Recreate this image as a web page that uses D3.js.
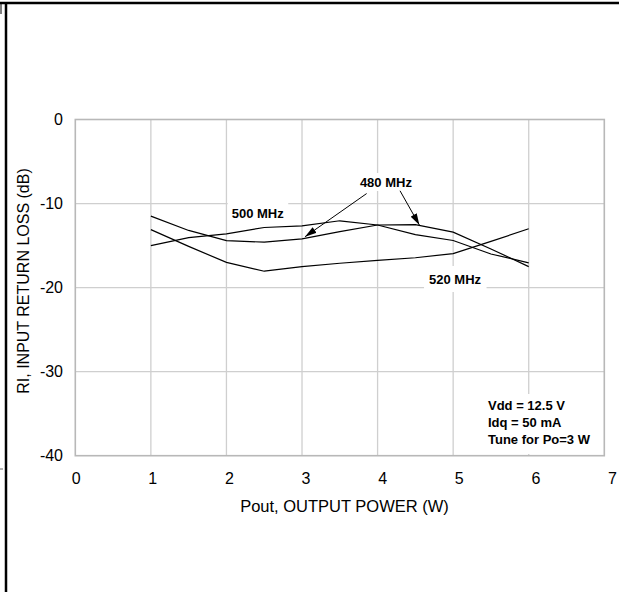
<!DOCTYPE html>
<html>
<head>
<meta charset="utf-8">
<script src="https://cdn.jsdelivr.net/npm/d3@7"></script>
<style>
  html, body { margin: 0; padding: 0; background: #fff; }
  svg { display: block; }
  text { font-family: "Liberation Sans", Arial, Helvetica, sans-serif; fill: #000; }
</style>
</head>
<body>
<svg id="chart" width="619" height="592"></svg>
<script>
// ---- data ----
const xValues   = [1, 1.5, 2, 2.5, 3, 3.5, 4, 4.5, 5, 5.5, 6];
const mhz480    = [-11.5, -13.2, -14.4, -14.6, -14.2, -13.35, -12.55, -12.5, -13.4, -15.4, -17.5];
const mhz500    = [-15.0, -14.05, -13.6, -12.85, -12.65, -12.05, -12.55, -13.7, -14.4, -16.0, -17.05];
const mhz520    = [-13.1, -15.1, -17.0, -18.05, -17.5, -17.1, -16.75, -16.45, -15.95, -14.5, -13.0];
const xTicks    = [0, 1, 2, 3, 4, 5, 6, 7];
const yTicks    = [0, -10, -20, -30, -40];
const seriesNames = ["480 MHz", "500 MHz", "520 MHz"];
const noteLines = ["Vdd = 12.5 V", "Idq = 50 mA", "Tune for Po=3 W"];
const xTitle = "Pout, OUTPUT POWER (W)";
const yTitle = "RI, INPUT RETURN LOSS (dB)";

// ---- layout ----
const svg = d3.select("#chart");
const L = 75.3, R = 604.3, T = 119.5, B = 455.7;
const x = d3.scaleLinear().domain([0, 7]).range([L, R]);
const y = d3.scaleLinear().domain([-40, 0]).range([B, T]);
const xLab = d3.scaleLinear().domain([0, 7]).range([75.7, 612]);

// page frame
svg.append("line").attr("x1", 0).attr("x2", 619).attr("y1", 3).attr("y2", 3)
  .attr("stroke", "#000").attr("stroke-width", 2.5);
svg.append("line").attr("x1", 6).attr("x2", 6).attr("y1", 2).attr("y2", 592)
  .attr("stroke", "#000").attr("stroke-width", 2.5);
svg.append("line").attr("x1", 1).attr("x2", 1).attr("y1", 4).attr("y2", 14)
  .attr("stroke", "#000").attr("stroke-width", 1);
svg.append("line").attr("x1", 0).attr("x2", 3).attr("y1", 469).attr("y2", 469)
  .attr("stroke", "#666").attr("stroke-width", 1);

// grid
const grid = svg.append("g");
grid.selectAll("line.v").data(xTicks.slice(1, -1)).join("line")
  .attr("x1", d => x(d)).attr("x2", d => x(d)).attr("y1", T).attr("y2", B)
  .attr("stroke", "#cfcfcf").attr("stroke-width", 1.3);
grid.selectAll("line.h").data(yTicks.slice(1, -1)).join("line")
  .attr("x1", L).attr("x2", R).attr("y1", d => y(d)).attr("y2", d => y(d))
  .attr("stroke", "#cfcfcf").attr("stroke-width", 1.3);
svg.append("rect").attr("x", L).attr("y", T).attr("width", R - L).attr("height", B - T)
  .attr("fill", "none").attr("stroke", "#b8b8b8").attr("stroke-width", 1.6);

// series lines
const line = d3.line().x((d, i) => x(xValues[i])).y(d => y(d));
[mhz480, mhz500, mhz520].forEach(s => {
  svg.append("path").datum(s).attr("d", line)
    .attr("fill", "none").attr("stroke", "#000").attr("stroke-width", 1.2);
});

// annotation label boxes + labels
const labels = [
  { text: seriesNames[0], x: 4.11, y: -8.0,  padX: 4, top: 173, bottom: 191 },
  { text: seriesNames[1], x: 2.414, y: -11.76, padX: 4, top: 201, bottom: 222 },
  { text: seriesNames[2], x: 5.025, y: -19.58, padX: 5, top: 266, bottom: 292 }
];
labels.forEach(l => {
  const t = svg.append("text").attr("x", x(l.x)).attr("y", y(l.y))
    .attr("text-anchor", "middle").attr("font-size", 13).attr("font-weight", "bold")
    .text(l.text);
  const bb = t.node().getBBox();
  svg.insert("rect", "text").attr("x", bb.x - l.padX).attr("width", bb.width + 2 * l.padX)
    .attr("y", l.top).attr("height", l.bottom - l.top).attr("fill", "#fff");
});

// arrows
const defs = svg.append("defs");
defs.append("marker").attr("id", "ah").attr("viewBox", "0 0 10 6")
  .attr("refX", 10).attr("refY", 3).attr("markerWidth", 12).attr("markerHeight", 7)
  .attr("markerUnits", "userSpaceOnUse").attr("orient", "auto")
  .append("path").attr("d", "M0,0 L10,3 L0,6 Z").attr("fill", "#000");
const arrows = [
  { x1: 3.855, y1: -8.81, x2: 3.04, y2: -13.95 },
  { x1: 4.297, y1: -8.48, x2: 4.553, y2: -12.56 }
];
arrows.forEach(a => {
  svg.append("line").attr("x1", x(a.x1)).attr("y1", y(a.y1))
    .attr("x2", x(a.x2)).attr("y2", y(a.y2))
    .attr("stroke", "#000").attr("stroke-width", 1).attr("marker-end", "url(#ah)");
});

// conditions note
const note = svg.append("g");
note.append("rect").attr("x", 482).attr("y", 394).attr("width", 118).attr("height", 60).attr("fill", "#fff");
note.selectAll("text").data(noteLines).join("text")
  .attr("x", 488).attr("y", (d, i) => 410 + i * 17)
  .attr("font-size", 13).attr("font-weight", "bold").text(d => d);

// axes (labels only)
const fmt = d => String(d);
const yAxis = svg.append("g").attr("transform", `translate(${L},0)`)
  .call(d3.axisLeft(y).tickValues(yTicks).tickSize(0).tickPadding(12).tickFormat(fmt));
yAxis.select(".domain").remove();
yAxis.selectAll("text").attr("font-size", 16).attr("x", 63 - L).attr("font-family", null);

const xAxis = svg.append("g").attr("transform", `translate(0,${B})`)
  .call(d3.axisBottom(xLab).tickValues(xTicks).tickSize(0).tickFormat(fmt));
xAxis.select(".domain").remove();
xAxis.selectAll("text").attr("font-size", 16).attr("y", 28).attr("dy", 0).attr("font-family", null);

// titles
svg.append("text").attr("x", 344.5).attr("y", 512).attr("text-anchor", "middle")
  .attr("font-size", 16.5).text(xTitle);
svg.append("text").attr("transform", "translate(23,281) rotate(-90)")
  .attr("text-anchor", "middle").attr("dominant-baseline", "central")
  .attr("font-size", 16).text(yTitle);
</script>
</body>
</html>
